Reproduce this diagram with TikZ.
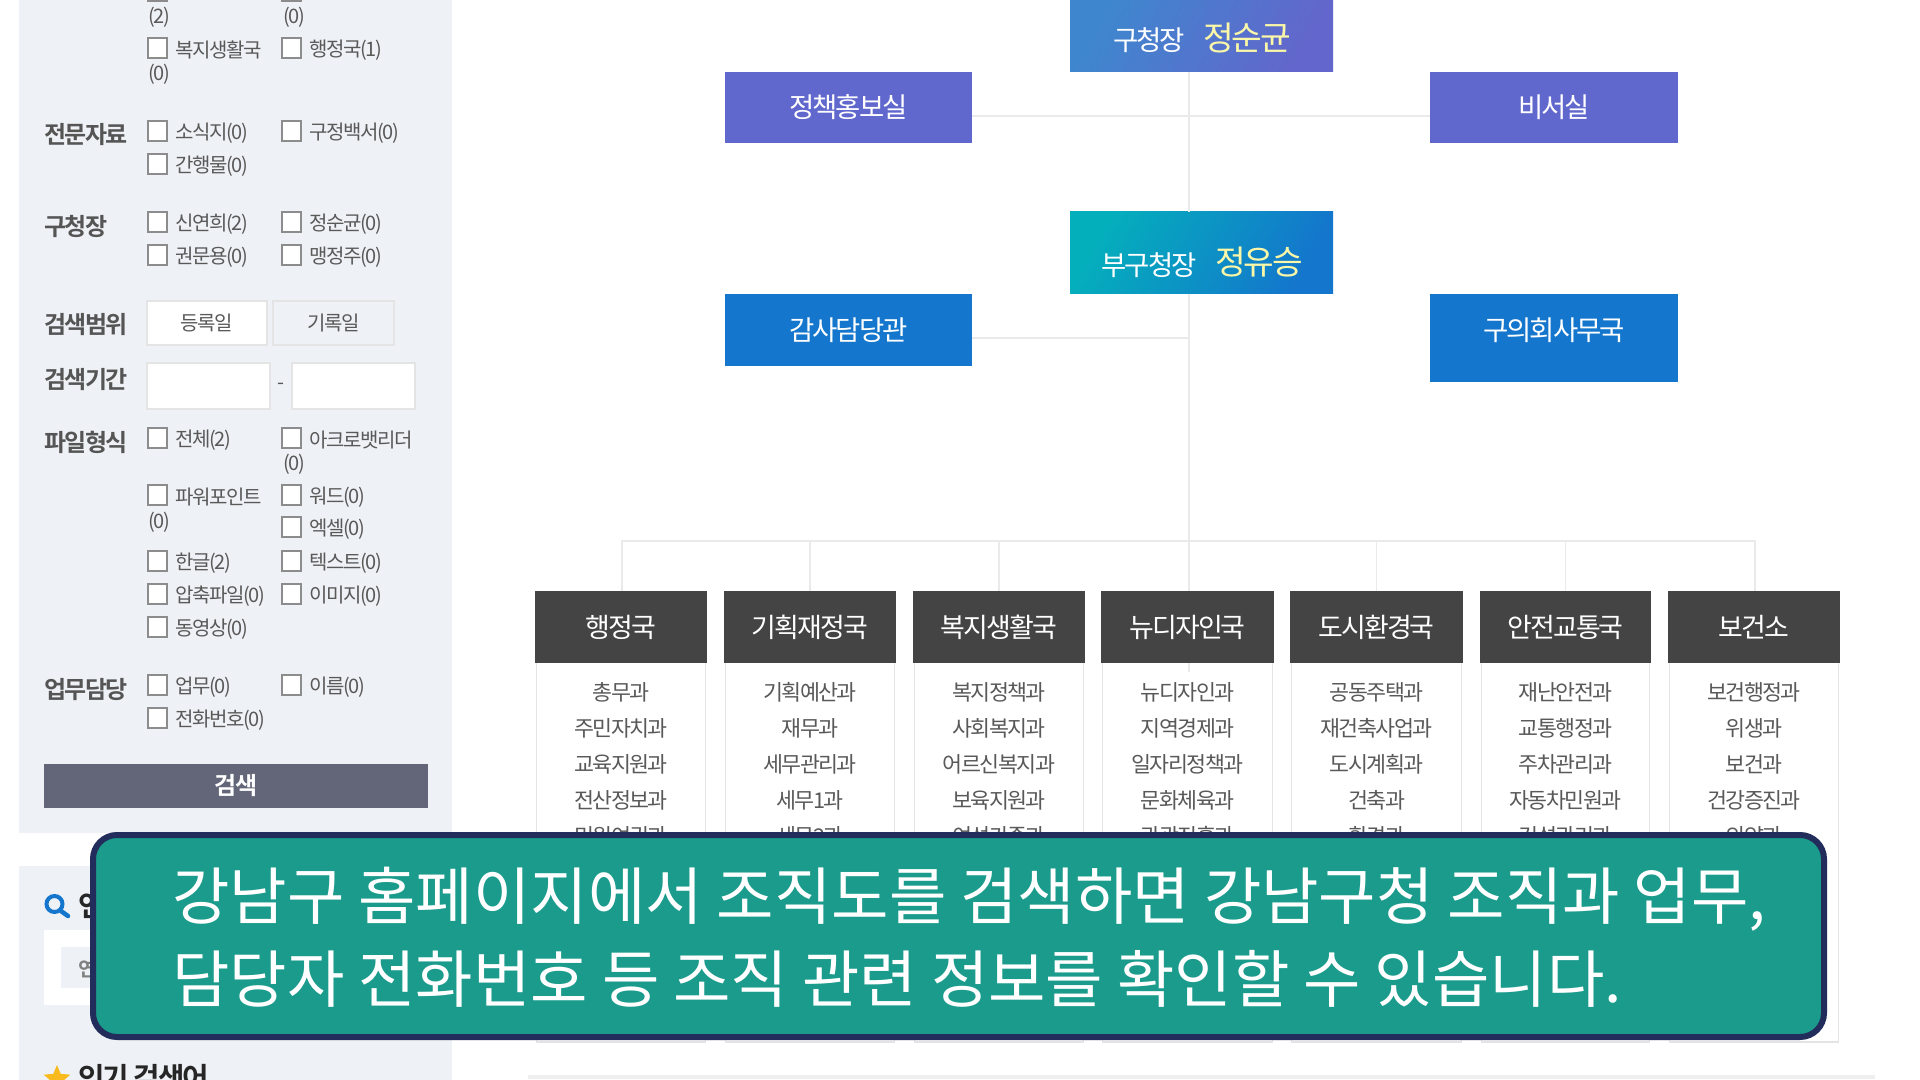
\documentclass[tikz,border=0pt]{standalone}
\usepackage{fontspec}
\usetikzlibrary{shapes.geometric}
\newfontfamily\kr{Noto Sans CJK KR}[BoldFont={Noto Sans CJK KR Bold}]
\newfontfamily\krt{Noto Sans CJK KR}[LetterSpace=-7,BoldFont={Noto Sans CJK KR Bold}]
\definecolor{panel}{HTML}{EEF1F5}
\definecolor{txt}{HTML}{595959}
\definecolor{lbl}{HTML}{555555}
\definecolor{lin}{HTML}{E4E4E4}
\definecolor{linl}{HTML}{EAEAEA}
\definecolor{purp}{HTML}{6168CD}
\definecolor{blu}{HTML}{1476CC}
\definecolor{head}{HTML}{444444}
\definecolor{teal1}{HTML}{1A9B8C}
\definecolor{navy}{HTML}{232D5C}
\definecolor{pale}{HTML}{FBF7A8}
\tikzset{
 ptxt/.style={inner sep=0,anchor=west,text=txt,font=\krt\fontsize{15}{17}\selectfont},
 plbl/.style={inner sep=0,anchor=west,text=lbl,font=\krt\bfseries\fontsize{18}{20}\selectfont},
 bigl/.style={inner sep=0,anchor=west,text=black!85,font=\krt\bfseries\fontsize{21.6}{24}\selectfont},
 cbox/.style={draw=gray!90,line width=1.5pt,fill=white,minimum size=14.5pt,inner sep=0,outer sep=0},
 btn/.style={draw=lin,line width=1.2pt},
 orgtxt/.style={text=white,font=\krt\fontsize{20.6}{22}\selectfont,inner sep=0},
 namtxt/.style={text=pale,font=\krt\fontsize{25}{27}\selectfont,inner sep=0},
 headtxt/.style={text=white,font=\krt\fontsize{20.2}{22}\selectfont,inner sep=0},
 itemtxt/.style={text=txt,font=\krt\fontsize{16.3}{18}\selectfont,inner sep=0},
 conn/.style={draw=linl,line width=0.8pt},
 bantxt/.style={inner sep=0,anchor=west,text=white,font=\kr\fontsize{46.8}{52}\selectfont},
}
\newcommand\bx[7][]{\node[inner sep=0,outer sep=0,minimum width={(#5-#3)*0.75pt},minimum height={(#6-#4)*0.75pt},#1] (#2) at ({(#3+#5)/2},{(#4+#6)/2}) {#7};}
\newcommand\ck[4]{\node[cbox] (#1) at (#2+10.5,#3) {}; \node[ptxt] (#1t) at (#2+28,#3+2) {#4};}
\begin{document}
\begin{tikzpicture}[x=0.75pt,y=-0.75pt]
\path[use as bounding box,clip] (0,0) rectangle (1920,1080);
\fill[white] (0,0) rectangle (1920,1080);
\kr
% ---- left panels
\bx[fill=panel]{p1}{19}{0}{452}{833}{}
\bx[fill=panel]{p2}{19}{866}{452}{1090}{}
\def\ca{147}\def\cb{281}
\node[cbox] (c00) at (\ca+10.5,-9) {};
\node[cbox] (c01) at (\cb+10.5,-9) {};
\node[ptxt] (t1) at (148,17) {(2)};
\node[ptxt] (t2) at (283,17) {(0)};
\ck{a1}{\ca}{48}{복지생활국}
\ck{a2}{\cb}{48}{행정국(1)}
\node[ptxt] (t3) at (148,74) {(0)};
\node[plbl] (l1) at (44,135) {전문자료};
\ck{b1}{\ca}{131}{소식지(0)}
\ck{b2}{\cb}{131}{구정백서(0)}
\ck{b3}{\ca}{164}{간행물(0)}
\node[plbl] (l2) at (44,226) {구청장};
\ck{d1}{\ca}{222}{신연희(2)}
\ck{d2}{\cb}{222}{정순균(0)}
\ck{d3}{\ca}{255}{권문용(0)}
\ck{d4}{\cb}{255}{맹정주(0)}
\node[plbl] (l3) at (44,325) {검색범위};
\bx[fill=white,btn,ptxt,anchor=center]{e1}{147}{301}{267}{345}{\raisebox{-1pt}{등록일}}
\bx[fill=panel,btn,ptxt,anchor=center]{e2}{273}{301}{394}{345}{\raisebox{-1pt}{기록일}}
\node[plbl] (l4) at (44,380) {검색기간};
\bx[fill=white,btn]{f1}{147}{363}{270}{409}{}
\bx[fill=white,btn]{f2}{292}{363}{415}{409}{}
\node[ptxt,anchor=center] (f3) at (281,386) {-};
\node[plbl] (l5) at (44,442) {파일형식};
\ck{g1}{\ca}{438}{전체(2)}
\ck{g2}{\cb}{438}{아크로뱃리더}
\node[ptxt] (t4) at (283,464) {(0)};
\ck{g3}{\ca}{495}{파워포인트}
\ck{g4}{\cb}{495}{워드(0)}
\node[ptxt] (t5) at (148,522) {(0)};
\ck{g5}{\cb}{527}{엑셀(0)}
\ck{g6}{\ca}{561}{한글(2)}
\ck{g7}{\cb}{561}{텍스트(0)}
\ck{g8}{\ca}{594}{압축파일(0)}
\ck{g9}{\cb}{594}{이미지(0)}
\ck{g10}{\ca}{627}{동영상(0)}
\node[plbl] (l6) at (44,690) {업무담당};
\ck{h1}{\ca}{685}{업무(0)}
\ck{h2}{\cb}{685}{이름(0)}
\ck{h3}{\ca}{718}{전화번호(0)}
\bx[fill={rgb,255:red,98;green,102;blue,120},text=white,font=\krt\bfseries\fontsize{18}{20}\selectfont]{srch}{44}{764}{428}{808}{검색}
% second panel
\draw[blu,line width=3pt] (54.5,904) circle (8);
\draw[blu,line width=3.4pt,line cap=round] (61,911) -- (68,916);
\node[bigl] (m1) at (78,905) {연};
\bx[fill=white]{w1}{44}{930}{200}{1005}{}
\bx[fill=panel]{w2}{61}{947}{200}{988}{}
\node[ptxt,font=\krt\bfseries\fontsize{15}{17}\selectfont,text=gray] (m2) at (78,969) {연};
\node[star,star points=5,star point ratio=2.2,fill={rgb,255:red,249;green,186;blue,30},inner sep=0,minimum size=21pt] (st) at (57,1079) {};
\node[bigl] (m3) at (78,1078) {인기 검색어};
% ---- connector coordinates
\coordinate (j1) at (1189,116);
\coordinate (j2) at (1189,338);
\coordinate (jt) at (1189,541);
\coordinate (jl) at (622,541);
\coordinate (jr) at (1755,541);
\coordinate (jx) at (1189,672);
% bottom rule
\fill[lin!60] (528,1075) rectangle (1875,1079);
% columns
\newcommand\col[9]{%
 \fill[white] (#2,663) rectangle (#3,1040);
 \draw[lin,line width=1.2pt] (#2+1.5,663) -- (#2+1.5,1042) -- (#3-1.5,1042) -- (#3-1.5,663);
 \bx[fill=head,headtxt]{#1}{#2}{591}{#3}{663}{#4}
 \node[itemtxt] (#1a) at ({(#2+#3)/2},692) {#5};
 \node[itemtxt] (#1b) at ({(#2+#3)/2},728) {#6};
 \node[itemtxt] (#1c) at ({(#2+#3)/2},764) {#7};
 \node[itemtxt] (#1d) at ({(#2+#3)/2},800) {#8};
 \node[itemtxt] (#1e) at ({(#2+#3)/2},836) {#9};
}
\col{k1}{535}{707}{행정국}{총무과}{주민자치과}{교육지원과}{전산정보과}{민원여권과}
\col{k2}{724}{896}{기획재정국}{기획예산과}{재무과}{세무관리과}{세무1과}{세무2과}
\col{k3}{913}{1085}{복지생활국}{복지정책과}{사회복지과}{어르신복지과}{보육지원과}{여성가족과}
\col{k4}{1101}{1274}{뉴디자인국}{뉴디자인과}{지역경제과}{일자리정책과}{문화체육과}{관광진흥과}
\col{k5}{1290}{1463}{도시환경국}{공동주택과}{재건축사업과}{도시계획과}{건축과}{환경과}
\col{k6}{1480}{1651}{안전교통국}{재난안전과}{교통행정과}{주차관리과}{자동차민원과}{건설관리과}
\col{k7}{1668}{1840}{보건소}{보건행정과}{위생과}{보건과}{건강증진과}{의약과}
% org boxes
\bx[left color={rgb,255:red,62;green,135;blue,206},right color={rgb,255:red,99;green,102;blue,204},shading angle=60]{top}{1070}{0}{1333}{72}{}
\bx[left color={rgb,255:red,4;green,175;blue,188},right color=blu,shading angle=60]{dep}{1070}{212}{1333}{294}{}
\bx[fill=purp,orgtxt]{po}{725}{72}{972}{143}{\raisebox{1.5pt}{정책홍보실}}
\bx[fill=purp,orgtxt]{se}{1430}{72}{1678}{143}{\raisebox{1.5pt}{비서실}}
\bx[fill=blu,orgtxt]{au}{725}{294}{972}{366}{감사담당관}
\bx[fill=blu,orgtxt]{co}{1430}{294}{1678}{382}{\raisebox{13pt}{구의회사무국}}
\node[orgtxt] (top1) at (1149,40) {구청장};
\node[namtxt] (top2) at (1247,38) {정순균};
\node[orgtxt] (dep1) at (1149,265) {부구청장};
\node[namtxt] (dep2) at (1259,262) {정유승};
% connectors
\draw[conn] (po.east |- j1) -- (se.west |- j1);
\draw[conn] (top.south -| jt) -- (dep.north -| jt);
\draw[conn] (dep.south -| jt) -- (jx);
\draw[conn,line width=1.5pt] (au.east |- j2) -- (j2);
\draw[conn] (k1.north -| jl) -- (jl) -- (jr) -- (k7.north -| jr);
\draw[conn] (k2.north) -- (k2.north |- jt);
\draw[conn] (k3.north) -- (k3.north |- jt);
\draw[conn] (k5.north) -- (k5.north |- jt);
\draw[conn] (k6.north) -- (k6.north |- jt);
% header of the middle column over the stem
\fill[head] (1101,591) rectangle (1274,663);
\node[headtxt] (k4h) at (1187.5,627) {뉴디자인국};
% banner
\node[draw=navy,fill=teal1,line width=4.5pt,rounded corners=18pt,inner sep=0,outer sep=0,minimum width={(1827-90-6)*0.75pt},minimum height={(1040-832-6)*0.75pt}] (ban) at ({(90+1827)/2},936) {};
\node[bantxt] (b1) at (172,899) {강남구 홈페이지에서 조직도를 검색하면 강남구청 조직과 업무,};
\node[bantxt] (b2) at (172,979) {담당자 전화번호 등 조직 관련 정보를 확인할 수 있습니다.};
\end{tikzpicture}
\end{document}
